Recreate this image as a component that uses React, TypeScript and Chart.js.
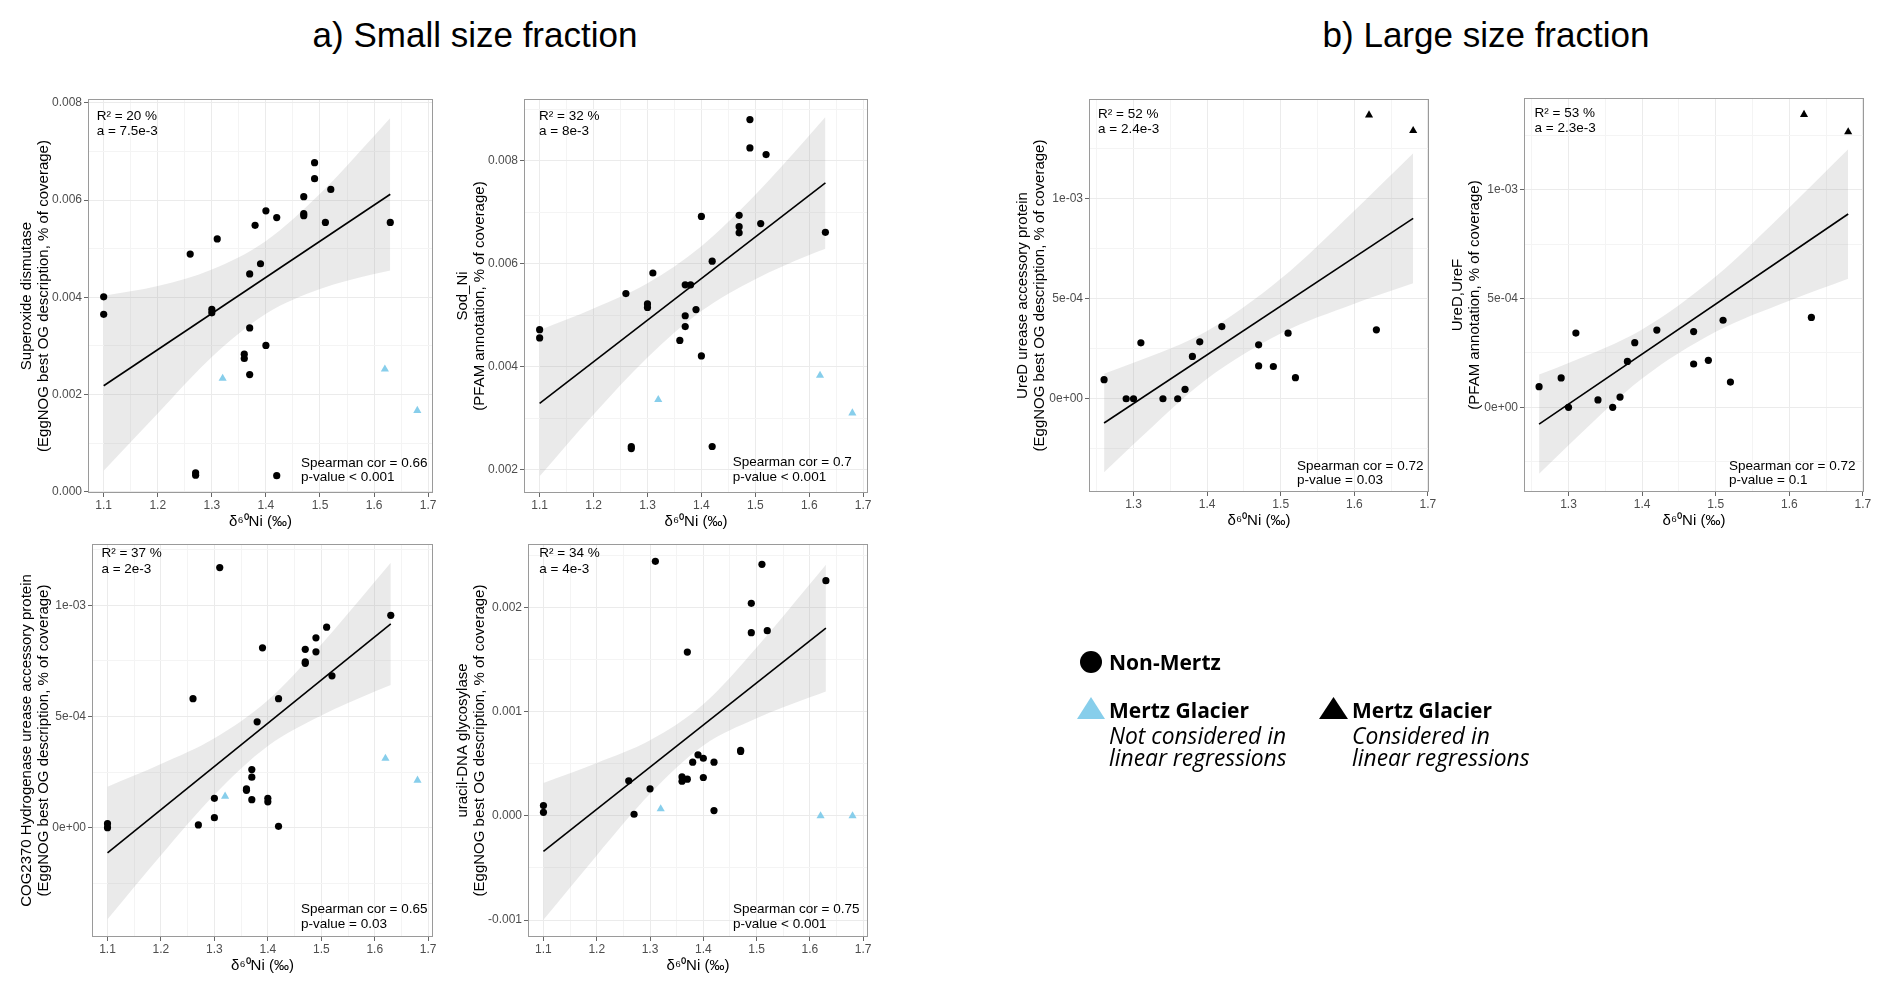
import React, { useEffect, useRef } from 'react';
import { Chart, registerables } from 'chart.js';

Chart.register(...registerables);
Chart.defaults.font.family = '"Liberation Sans", Arial, sans-serif';

// ---------- shared x axis ----------
const xMajorA = [1.1, 1.2, 1.3, 1.4, 1.5, 1.6, 1.7];
const xLabelsA = ['1.1', '1.2', '1.3', '1.4', '1.5', '1.6', '1.7'];
const xMinorA = [1.15, 1.25, 1.35, 1.45, 1.55, 1.65];
const xMajorB = [1.3, 1.4, 1.5, 1.6, 1.7];
const xLabelsB = ['1.3', '1.4', '1.5', '1.6', '1.7'];
const xMinorB = [1.25, 1.35, 1.45, 1.55, 1.65];

// ---------- panel a1: Superoxide dismutase ----------
const p1X = [1.10, 1.10, 1.26, 1.27, 1.27, 1.30, 1.30, 1.31, 1.36, 1.36, 1.37, 1.37, 1.37, 1.38, 1.39, 1.40, 1.40, 1.42, 1.42, 1.47, 1.47, 1.47, 1.49, 1.49, 1.51, 1.52, 1.63];
const p1Y = [4.01e-3, 3.65e-3, 4.89e-3, 0.39e-3, 0.34e-3, 3.75e-3, 3.68e-3, 5.20e-3, 2.83e-3, 2.74e-3, 4.48e-3, 3.37e-3, 2.41e-3, 5.48e-3, 4.69e-3, 5.78e-3, 3.01e-3, 5.64e-3, 0.33e-3, 6.07e-3, 5.72e-3, 5.68e-3, 6.77e-3, 6.44e-3, 5.54e-3, 6.22e-3, 5.54e-3];
const p1TriX = [1.32, 1.62, 1.68];
const p1TriY = [2.33e-3, 2.52e-3, 1.67e-3];
const p1LineX = [1.10, 1.63];
const p1LineY = [2.18e-3, 6.12e-3];
const p1BandX = [1.10, 1.20, 1.30, 1.40, 1.50, 1.60, 1.63];
const p1BandUp = [4.03e-3, 4.23e-3, 4.57e-3, 5.16e-3, 6.13e-3, 7.32e-3, 7.69e-3];
const p1BandLo = [0.43e-3, 1.61e-3, 2.77e-3, 3.66e-3, 4.17e-3, 4.48e-3, 4.55e-3];
const p1YTicks = [0, 0.002, 0.004, 0.006, 0.008];
const p1YLabels = ['0.000', '0.002', '0.004', '0.006', '0.008'];
const p1YMinor = [0.001, 0.003, 0.005, 0.007];

// ---------- panel a2: Sod_Ni ----------
const p2X = [1.10, 1.10, 1.26, 1.27, 1.27, 1.30, 1.30, 1.31, 1.36, 1.37, 1.37, 1.37, 1.38, 1.39, 1.40, 1.40, 1.42, 1.42, 1.47, 1.47, 1.47, 1.49, 1.49, 1.51, 1.52, 1.63];
const p2Y = [4.72e-3, 4.56e-3, 5.42e-3, 2.45e-3, 2.41e-3, 5.22e-3, 5.15e-3, 5.82e-3, 4.51e-3, 5.59e-3, 4.99e-3, 4.78e-3, 5.59e-3, 5.11e-3, 6.92e-3, 4.21e-3, 6.05e-3, 2.45e-3, 6.94e-3, 6.72e-3, 6.60e-3, 8.80e-3, 8.25e-3, 6.78e-3, 8.12e-3, 6.61e-3];
const p2TriX = [1.32, 1.62, 1.68];
const p2TriY = [3.36e-3, 3.83e-3, 3.10e-3];
const p2LineX = [1.10, 1.63];
const p2LineY = [3.29e-3, 7.57e-3];
const p2BandX = [1.10, 1.20, 1.30, 1.40, 1.50, 1.60, 1.63];
const p2BandUp = [4.71e-3, 5.13e-3, 5.62e-3, 6.34e-3, 7.34e-3, 8.49e-3, 8.85e-3];
const p2BandLo = [1.87e-3, 3.07e-3, 4.18e-3, 5.08e-3, 5.70e-3, 6.17e-3, 6.29e-3];
const p2YTicks = [0.002, 0.004, 0.006, 0.008];
const p2YLabels = ['0.002', '0.004', '0.006', '0.008'];
const p2YMinor = [0.003, 0.005, 0.007, 0.009];

// ---------- panel a3: COG2370 ----------
const p3X = [1.10, 1.10, 1.26, 1.27, 1.30, 1.30, 1.31, 1.36, 1.36, 1.37, 1.37, 1.37, 1.38, 1.39, 1.40, 1.40, 1.42, 1.42, 1.47, 1.47, 1.47, 1.49, 1.49, 1.51, 1.52, 1.63];
const p3Y = [0.18e-4, 0.0, 5.80e-4, 0.12e-4, 1.32e-4, 0.45e-4, 11.70e-4, 1.74e-4, 1.68e-4, 2.61e-4, 2.27e-4, 1.26e-4, 4.76e-4, 8.09e-4, 1.32e-4, 1.16e-4, 5.80e-4, 0.06e-4, 8.02e-4, 7.46e-4, 7.39e-4, 8.54e-4, 7.91e-4, 9.02e-4, 6.83e-4, 9.55e-4];
const p3TriX = [1.32, 1.62, 1.68];
const p3TriY = [1.41e-4, 3.11e-4, 2.13e-4];
const p3LineX = [1.10, 1.63];
const p3LineY = [-1.14e-4, 9.17e-4];
const p3BandX = [1.10, 1.20, 1.30, 1.40, 1.50, 1.60, 1.63];
const p3BandUp = [1.84e-4, 2.86e-4, 4.02e-4, 5.73e-4, 8.24e-4, 11.06e-4, 11.92e-4];
const p3BandLo = [-4.12e-4, -1.24e-4, 1.48e-4, 3.67e-4, 5.04e-4, 6.12e-4, 6.42e-4];
const p3YTicks = [0, 5e-4, 1e-3];
const p3YLabels = ['0e+00', '5e-04', '1e-03'];
const p3YMinor = [-2.5e-4, 2.5e-4, 7.5e-4, 12.5e-4];

// ---------- panel a4: uracil-DNA glycosylase ----------
const p4X = [1.10, 1.10, 1.26, 1.27, 1.30, 1.31, 1.36, 1.36, 1.37, 1.37, 1.38, 1.39, 1.40, 1.40, 1.42, 1.42, 1.47, 1.47, 1.49, 1.49, 1.51, 1.52, 1.63];
const p4Y = [0.99e-4, 0.35e-4, 3.37e-4, 0.16e-4, 2.60e-4, 24.46e-4, 3.75e-4, 3.33e-4, 15.74e-4, 3.53e-4, 5.16e-4, 5.87e-4, 5.54e-4, 3.69e-4, 5.16e-4, 0.51e-4, 6.31e-4, 6.19e-4, 20.42e-4, 17.60e-4, 24.17e-4, 17.79e-4, 22.60e-4];
const p4TriX = [1.32, 1.62, 1.68];
const p4TriY = [0.67e-4, 0.0, 0.0];
const p4LineX = [1.10, 1.63];
const p4LineY = [-3.40e-4, 18.04e-4];
const p4BandX = [1.10, 1.20, 1.30, 1.40, 1.50, 1.60, 1.63];
const p4BandUp = [3.17e-4, 5.09e-4, 7.26e-4, 10.72e-4, 16.18e-4, 22.27e-4, 24.13e-4];
const p4BandLo = [-9.97e-4, -3.79e-4, 2.12e-4, 6.76e-4, 9.38e-4, 11.39e-4, 11.95e-4];
const p4YTicks = [-0.001, 0, 0.001, 0.002];
const p4YLabels = ['-0.001', '0.000', '0.001', '0.002'];
const p4YMinor = [-5e-4, 5e-4, 15e-4, 25e-4];

// ---------- panel b1: UreD urease accessory protein ----------
const p5X = [1.26, 1.29, 1.30, 1.31, 1.34, 1.36, 1.37, 1.38, 1.39, 1.42, 1.47, 1.47, 1.49, 1.51, 1.52, 1.63];
const p5Y = [0.95e-4, 0.0, 0.0, 2.79e-4, 0.0, 0.0, 0.47e-4, 2.11e-4, 2.84e-4, 3.60e-4, 2.69e-4, 1.64e-4, 1.61e-4, 3.27e-4, 1.05e-4, 3.44e-4];
const p5TriX = [1.62, 1.68];
const p5TriY = [14.15e-4, 13.37e-4];
const p5LineX = [1.26, 1.68];
const p5LineY = [-1.21e-4, 9.00e-4];
const p5BandX = [1.26, 1.30, 1.40, 1.50, 1.60, 1.68];
const p5BandUp = [1.25e-4, 1.79e-4, 3.38e-4, 5.98e-4, 9.38e-4, 12.24e-4];
const p5BandLo = [-3.67e-4, -2.27e-4, 1.00e-4, 3.26e-4, 4.74e-4, 5.76e-4];
const p5YTicks = [0, 5e-4, 1e-3];
const p5YLabels = ['0e+00', '5e-04', '1e-03'];
const p5YMinor = [-2.5e-4, 2.5e-4, 7.5e-4, 12.5e-4];

// ---------- panel b2: UreD,UreF ----------
const p6X = [1.26, 1.29, 1.30, 1.31, 1.34, 1.36, 1.37, 1.38, 1.39, 1.42, 1.47, 1.47, 1.49, 1.51, 1.52, 1.63];
const p6Y = [0.95e-4, 1.35e-4, 0.0, 3.41e-4, 0.34e-4, 0.0, 0.47e-4, 2.11e-4, 2.97e-4, 3.55e-4, 3.48e-4, 1.99e-4, 2.16e-4, 4.00e-4, 1.16e-4, 4.13e-4];
const p6TriX = [1.62, 1.68];
const p6TriY = [13.45e-4, 12.65e-4];
const p6LineX = [1.26, 1.68];
const p6LineY = [-0.77e-4, 8.88e-4];
const p6BandX = [1.26, 1.30, 1.40, 1.50, 1.60, 1.68];
const p6BandUp = [1.51e-4, 2.04e-4, 3.58e-4, 6.01e-4, 9.18e-4, 11.85e-4];
const p6BandLo = [-3.05e-4, -1.74e-4, 1.32e-4, 3.47e-4, 4.90e-4, 5.91e-4];
const p6YTicks = [0, 5e-4, 1e-3];
const p6YLabels = ['0e+00', '5e-04', '1e-03'];
const p6YMinor = [-2.5e-4, 2.5e-4, 7.5e-4, 12.5e-4];

const SKY = '#87CEEB';
const BLACK = '#000000';

interface Geo {
  canvasLeft: number; yW: number; L: number; R: number; T: number; B: number; titlePad: number;
  tl: [number, number, number]; br: [number, number, number];
}
interface PanelDef {
  x: number[]; y: number[]; tx: number[]; ty: number[]; triColor: string;
  lx: number[]; ly: number[]; bx: number[]; bu: number[]; bl: number[];
  xMin: number; xMax: number; xMajor: number[]; xLabels: string[]; xMinor: number[];
  yMin: number; yMax: number; yMajor: number[]; yLabels: string[]; yMinor: number[];
  yTitle: string[]; ann: string[]; geo: Geo;
}

const panels: PanelDef[] = [
  {
    x: p1X, y: p1Y, tx: p1TriX, ty: p1TriY, triColor: SKY, lx: p1LineX, ly: p1LineY, bx: p1BandX, bu: p1BandUp, bl: p1BandLo,
    xMin: 1.071, xMax: 1.709, xMajor: xMajorA, xLabels: xLabelsA, xMinor: xMinorA,
    yMin: -0.000027, yMax: 0.00808, yMajor: p1YTicks, yLabels: p1YLabels, yMinor: p1YMinor,
    yTitle: ['Superoxide dismutase', '(EggNOG best OG description, % of coverage)'],
    ann: ['R² = 20 %', 'a = 7.5e-3', 'Spearman cor = 0.66', 'p-value < 0.001'],
    geo: { canvasLeft: 0, yW: 88, L: 88, R: 433, T: 99, B: 493, titlePad: 19, tl: [8.7, 17.7, 32.7], br: [213, -29.7, -15.7] },
  },
  {
    x: p2X, y: p2Y, tx: p2TriX, ty: p2TriY, triColor: SKY, lx: p2LineX, ly: p2LineY, bx: p2BandX, bu: p2BandUp, bl: p2BandLo,
    xMin: 1.071, xMax: 1.709, xMajor: xMajorA, xLabels: xLabelsA, xMinor: xMinorA,
    yMin: 0.001547, yMax: 0.0092, yMajor: p2YTicks, yLabels: p2YLabels, yMinor: p2YMinor,
    yTitle: ['Sod_Ni', '(PFAM annotation, % of coverage)'],
    ann: ['R² = 32 %', 'a = 8e-3', 'Spearman cor = 0.7', 'p-value < 0.001'],
    geo: { canvasLeft: 440, yW: 84, L: 524, R: 868, T: 99, B: 493, titlePad: 14.75, tl: [15, 17.7, 32.7], br: [208.7, -30.3, -15.7] },
  },
  {
    x: p3X, y: p3Y, tx: p3TriX, ty: p3TriY, triColor: SKY, lx: p3LineX, ly: p3LineY, bx: p3BandX, bu: p3BandUp, bl: p3BandLo,
    xMin: 1.071, xMax: 1.709, xMajor: xMajorA, xLabels: xLabelsA, xMinor: xMinorA,
    yMin: -4.92e-4, yMax: 12.76e-4, yMajor: p3YTicks, yLabels: p3YLabels, yMinor: p3YMinor,
    yTitle: ['COG2370 Hydrogenase urease accessory protein', '(EggNOG best OG description, % of coverage)'],
    ann: ['R² = 37 %', 'a = 2e-3', 'Spearman cor = 0.65', 'p-value = 0.03'],
    geo: { canvasLeft: 0, yW: 92, L: 92, R: 433, T: 544, B: 937, titlePad: 19, tl: [9.4, 9.3, 25], br: [209, -27.4, -12.7] },
  },
  {
    x: p4X, y: p4Y, tx: p4TriX, ty: p4TriY, triColor: SKY, lx: p4LineX, ly: p4LineY, bx: p4BandX, bu: p4BandUp, bl: p4BandLo,
    xMin: 1.071, xMax: 1.709, xMajor: xMajorA, xLabels: xLabelsA, xMinor: xMinorA,
    yMin: -11.63e-4, yMax: 26.12e-4, yMajor: p4YTicks, yLabels: p4YLabels, yMinor: p4YMinor,
    yTitle: ['uracil-DNA glycosylase', '(EggNOG best OG description, % of coverage)'],
    ann: ['R² = 34 %', 'a = 4e-3', 'Spearman cor = 0.75', 'p-value < 0.001'],
    geo: { canvasLeft: 440, yW: 88, L: 528, R: 868, T: 544, B: 937, titlePad: 14.75, tl: [11.3, 9.3, 25], br: [205, -27.4, -12.7] },
  },
  {
    x: p5X, y: p5Y, tx: p5TriX, ty: p5TriY, triColor: BLACK, lx: p5LineX, ly: p5LineY, bx: p5BandX, bu: p5BandUp, bl: p5BandLo,
    xMin: 1.2395, xMax: 1.7015, xMajor: xMajorB, xLabels: xLabelsB, xMinor: xMinorB,
    yMin: -4.65e-4, yMax: 14.95e-4, yMajor: p5YTicks, yLabels: p5YLabels, yMinor: p5YMinor,
    yTitle: ['UreD urease accessory protein', '(EggNOG best OG description, % of coverage)'],
    ann: ['R² = 52 %', 'a = 2.4e-3', 'Spearman cor = 0.72', 'p-value = 0.03'],
    geo: { canvasLeft: 1000, yW: 89, L: 1089, R: 1429, T: 99, B: 492, titlePad: 14.75, tl: [9, 15, 30], br: [208, -25.6, -11.3] },
  },
  {
    x: p6X, y: p6Y, tx: p6TriX, ty: p6TriY, triColor: BLACK, lx: p6LineX, ly: p6LineY, bx: p6BandX, bu: p6BandUp, bl: p6BandLo,
    xMin: 1.2395, xMax: 1.7015, xMajor: xMajorB, xLabels: xLabelsB, xMinor: xMinorB,
    yMin: -3.89e-4, yMax: 14.21e-4, yMajor: p6YTicks, yLabels: p6YLabels, yMinor: p6YMinor,
    yTitle: ['UreD,UreF', '(PFAM annotation, % of coverage)'],
    ann: ['R² = 53 %', 'a = 2.3e-3', 'Spearman cor = 0.72', 'p-value = 0.1'],
    geo: { canvasLeft: 1440, yW: 84, L: 1524, R: 1864, T: 98, B: 492, titlePad: 9.75, tl: [10.6, 15.7, 30.7], br: [205, -25.6, -11.3] },
  },
];

const PAD_T = 12;
const PAD_R = 16;
const XH = 40;

type TickItem = { v: number; l: string; m: boolean };
function mergeTicks(major: number[], labels: string[], minor: number[]): TickItem[] {
  const a: TickItem[] = major.map((v, i) => ({ v, l: labels[i], m: true }));
  const b: TickItem[] = minor.map((v) => ({ v, l: '', m: false }));
  return [...a, ...b].sort((p, q) => p.v - q.v);
}

function ScatterPanel({ p }: { p: PanelDef }) {
  const ref = useRef<HTMLCanvasElement | null>(null);
  const g = p.geo;
  const cw = g.yW + (g.R - g.L) + PAD_R;
  const ch = PAD_T + (g.B - g.T) + XH;

  useEffect(() => {
    if (!ref.current) return;
    const xt = mergeTicks(p.xMajor, p.xLabels, p.xMinor);
    const yt = mergeTicks(p.yMajor, p.yLabels, p.yMinor);
    const annot = {
      id: 'annot',
      afterDatasetsDraw(chart: any) {
        const { ctx, chartArea: a } = chart;
        ctx.save();
        ctx.strokeStyle = '#9a9a9a';
        ctx.lineWidth = 1;
        ctx.strokeRect(Math.round(a.left) + 0.5, Math.round(a.top) + 0.5, Math.round(a.right - a.left) - 1, Math.round(a.bottom - a.top) - 1);
        ctx.fillStyle = '#000';
        ctx.font = '13.5px "Liberation Sans", Arial, sans-serif';
        ctx.textBaseline = 'middle';
        ctx.textAlign = 'left';
        ctx.fillText(p.ann[0], a.left + g.tl[0], a.top + g.tl[1]);
        ctx.fillText(p.ann[1], a.left + g.tl[0], a.top + g.tl[2]);
        ctx.fillText(p.ann[2], a.left + g.br[0], a.bottom + g.br[1]);
        ctx.fillText(p.ann[3], a.left + g.br[0], a.bottom + g.br[2]);
        ctx.restore();
      },
    };
    const chart = new Chart(ref.current, {
      type: 'line',
      data: {
        datasets: [
          {
            data: p.x.map((v, i) => ({ x: v, y: p.y[i] })),
            showLine: false, pointStyle: 'circle', pointRadius: 3.6, pointBackgroundColor: '#000', pointBorderWidth: 0,
            pointBorderColor: 'rgba(0,0,0,0)', borderColor: 'rgba(0,0,0,0)', clip: false, order: 0,
          } as any,
          {
            data: p.tx.map((v, i) => ({ x: v, y: p.ty[i] })),
            showLine: false, pointStyle: 'triangle', pointRadius: 4.7, pointBackgroundColor: p.triColor, pointBorderWidth: 0,
            pointBorderColor: 'rgba(0,0,0,0)', borderColor: 'rgba(0,0,0,0)', clip: false, order: 0,
          } as any,
          {
            data: p.lx.map((v, i) => ({ x: v, y: p.ly[i] })),
            showLine: true, borderColor: '#000', borderWidth: 1.6, pointRadius: 0, fill: false, order: 1,
          } as any,
          {
            data: p.bx.map((v, i) => ({ x: v, y: p.bu[i] })),
            showLine: true, borderColor: 'rgba(0,0,0,0)', borderWidth: 1, pointRadius: 0,
            fill: '+1', backgroundColor: 'rgba(150,150,150,0.2)', cubicInterpolationMode: 'monotone', order: 2,
          } as any,
          {
            data: p.bx.map((v, i) => ({ x: v, y: p.bl[i] })),
            showLine: true, borderColor: 'rgba(0,0,0,0)', borderWidth: 1, pointRadius: 0,
            fill: false, cubicInterpolationMode: 'monotone', order: 3,
          } as any,
        ],
      },
      options: {
        animation: false,
        responsive: false,
        maintainAspectRatio: false,
        events: [],
        layout: { padding: { top: PAD_T, right: PAD_R, left: 0, bottom: 0 } },
        plugins: { legend: { display: false }, tooltip: { enabled: false } },
        scales: {
          x: {
            type: 'linear', min: p.xMin, max: p.xMax,
            afterBuildTicks: (s: any) => { s.ticks = xt.map((t) => ({ value: t.v })); },
            afterFit: (s: any) => { s.height = XH; },
            ticks: {
              autoSkip: false, maxRotation: 0, padding: 1, color: '#4d4d4d', font: { size: 12 },
              callback: (_v: any, i: number) => (xt[i] ? xt[i].l : ''),
            },
            grid: {
              color: (c: any) => (xt[c.index] && xt[c.index].m ? '#ebebeb' : '#f4f4f4'),
              tickColor: (c: any) => (xt[c.index] && xt[c.index].m ? '#666' : 'rgba(0,0,0,0)'),
              tickLength: 4, lineWidth: 1,
            },
            border: { display: false },
            title: { display: true, text: 'δ⁶⁰Ni (‰)', color: '#000', font: { size: 15, lineHeight: 1.1 }, padding: { top: 0, bottom: 2.75 } },
          },
          y: {
            type: 'linear', min: p.yMin, max: p.yMax,
            afterBuildTicks: (s: any) => { s.ticks = yt.map((t) => ({ value: t.v })); },
            afterFit: (s: any) => { s.width = g.yW; },
            ticks: {
              autoSkip: false, padding: 2, color: '#4d4d4d', font: { size: 12 },
              callback: (_v: any, i: number) => (yt[i] ? yt[i].l : ''),
            },
            grid: {
              color: (c: any) => (yt[c.index] && yt[c.index].m ? '#ebebeb' : '#f4f4f4'),
              tickColor: (c: any) => (yt[c.index] && yt[c.index].m ? '#666' : 'rgba(0,0,0,0)'),
              tickLength: 4, lineWidth: 1,
            },
            border: { display: false },
            title: { display: true, text: p.yTitle, color: '#000', font: { size: 15, lineHeight: 1.1 }, padding: { top: g.titlePad, bottom: 0 } },
          },
        },
      } as any,
      plugins: [annot],
    });
    return () => chart.destroy();
  }, []);

  return (
    <canvas
      ref={ref}
      width={cw}
      height={ch}
      style={{ position: 'absolute', left: g.canvasLeft, top: g.T - PAD_T, width: cw, height: ch }}
    />
  );
}

const legendFont = '"Open Sans", "Noto Sans", sans-serif';

function Txt({ left, cy, text, bold, italic }: { left: number; cy: number; text: string; bold?: boolean; italic?: boolean }) {
  return (
    <div
      style={{
        position: 'absolute', left, top: cy - 13, height: 26, lineHeight: '26px', fontSize: bold ? 21 : 22.8,
        fontFamily: legendFont, fontWeight: bold ? 700 : 400, fontStyle: italic ? 'italic' : 'normal',
        whiteSpace: 'nowrap', color: '#000',
      }}
    >
      {text}
    </div>
  );
}

export default function App() {
  return (
    <div style={{ position: 'absolute', left: 0, top: 0, width: 1892, height: 998, background: '#fff', overflow: 'hidden' }}>
      <div style={{ position: 'absolute', left: 475, top: 35, transform: 'translate(-50%, -50%)', fontSize: 35, fontFamily: '"Liberation Sans", Arial, sans-serif', whiteSpace: 'nowrap', color: '#000' }}>
        a) Small size fraction
      </div>
      <div style={{ position: 'absolute', left: 1486, top: 35, transform: 'translate(-50%, -50%)', fontSize: 35, fontFamily: '"Liberation Sans", Arial, sans-serif', whiteSpace: 'nowrap', color: '#000' }}>
        b) Large size fraction
      </div>
      {panels.map((p, i) => (
        <ScatterPanel key={i} p={p} />
      ))}
      <svg style={{ position: 'absolute', left: 0, top: 0 }} width={1892} height={998}>
        <circle cx={1091} cy={662} r={11} fill="#000" />
        <polygon points="1077,719 1105,719 1091,697" fill={SKY} />
        <polygon points="1319,719 1348,719 1333.5,697" fill="#000" />
      </svg>
      <Txt left={1109} cy={662} text="Non-Mertz" bold />
      <Txt left={1109} cy={710} text="Mertz Glacier" bold />
      <Txt left={1109} cy={736} text="Not considered in" italic />
      <Txt left={1109} cy={758} text="linear regressions" italic />
      <Txt left={1352} cy={710} text="Mertz Glacier" bold />
      <Txt left={1352} cy={736} text="Considered in" italic />
      <Txt left={1352} cy={758} text="linear regressions" italic />
    </div>
  );
}
